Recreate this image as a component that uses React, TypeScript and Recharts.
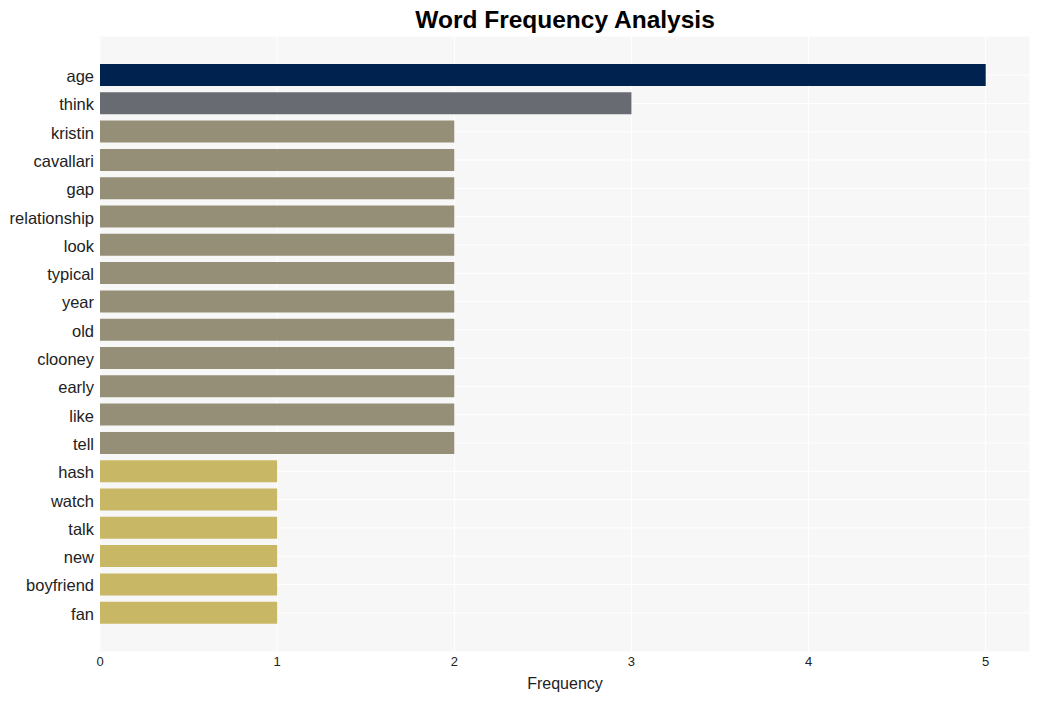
import React from "react";
import { BarChart, Bar, XAxis, YAxis, CartesianGrid, Cell } from "recharts";

const words = [
  "age", "think", "kristin", "cavallari", "gap", "relationship", "look", "typical",
  "year", "old", "clooney", "early", "like", "tell", "hash", "watch", "talk", "new",
  "boyfriend", "fan",
];
const counts = [5, 3, 2, 2, 2, 2, 2, 2, 2, 2, 2, 2, 2, 2, 1, 1, 1, 1, 1, 1];
const xTicks = [0, 1, 2, 3, 4, 5];

const colorByCount: Record<number, string> = {
  5: "#00224e",
  3: "#696b73",
  2: "#958f78",
  1: "#c8b866",
};

const data = words.map((w, i) => ({ word: w, count: counts[i] }));

const FONT = "'Liberation Sans', Arial, Helvetica, sans-serif";

export default function App() {
  return (
    <div style={{ position: "absolute", left: 0, top: 0, width: 1039, height: 701, background: "#fff", fontFamily: FONT }}>
      <div
        style={{
          position: "absolute",
          left: 100,
          width: 930,
          top: 5,
          textAlign: "center",
          fontSize: 24.5,
          fontWeight: "bold",
          color: "#000",
          lineHeight: "30px",
        }}
      >
        Word Frequency Analysis
      </div>
      <BarChart
        width={1039}
        height={701}
        data={data}
        layout="vertical"
        margin={{ top: 36, right: 9, bottom: 0, left: 0 }}
        style={{ fontFamily: FONT }}
      >
        <CartesianGrid fill="#f7f7f7" stroke="#ffffff" strokeWidth={1} />
        <XAxis
          type="number"
          dataKey="count"
          domain={[0, 5.25]}
          ticks={xTicks}
          height={49}
          axisLine={false}
          tickLine={false}
          tickSize={0}
          tickMargin={5}
          tick={{ fill: "#222", fontSize: 13 }}
          label={{ value: "Frequency", position: "insideBottom", offset: 12, fill: "#222", fontSize: 16 }}
        />
        <YAxis
          type="category"
          dataKey="word"
          width={100}
          axisLine={false}
          tickLine={false}
          tickSize={0}
          tickMargin={6}
          interval={0}
          padding={{ top: 25, bottom: 25 }}
          tick={{ fill: "#222", fontSize: 16.5, dy: 1 }}
        />
        <Bar dataKey="count" barSize={22} isAnimationActive={false}>
          {data.map((d, i) => (
            <Cell key={i} fill={colorByCount[d.count]} />
          ))}
        </Bar>
      </BarChart>
    </div>
  );
}
